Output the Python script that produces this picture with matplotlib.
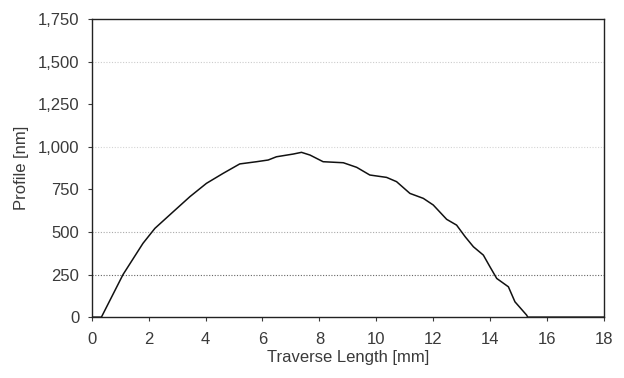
import matplotlib
matplotlib.use("Agg")
import matplotlib.pyplot as plt

# profile
traverse_mm = [0.0, 0.34, 1.10, 1.80, 2.22, 2.86, 3.45, 4.03, 4.62, 5.20, 5.79,
               6.20, 6.49, 7.08, 7.37, 7.67, 8.13, 8.84, 9.31, 9.77, 10.36,
               10.71, 11.18, 11.65, 12.00, 12.47, 12.82, 13.12, 13.41,
               13.76, 13.99, 14.23, 14.64, 14.87, 15.28, 15.32, 18.0]
profile_nm = [0, 0, 250, 433, 521, 618, 707, 785, 844, 899, 912,
              922, 941, 957, 967, 951, 912, 906, 879, 834, 820,
              795, 726, 697, 658, 574, 540, 472, 413,
              364, 296, 227, 178, 90, 12, 0, 0]

x_ticks = [0, 2, 4, 6, 8, 10, 12, 14, 16, 18]
y_ticks = [0, 250, 500, 750, 1000, 1250, 1500, 1750]
y_labels = ["0", "250", "500", "750", "1,000", "1,250", "1,500", "1,750"]

plt.rcParams["font.family"] = ["Liberation Sans", "DejaVu Sans"]
text_col = "#3a3a3a"

fig = plt.figure(figsize=(6.24, 3.78), dpi=100)
ax = fig.add_axes([0.147, 0.161, 0.821, 0.789])

# faded dotted gridlines, as on the scan
grid_alpha = {250: 0.9, 500: 0.5, 1000: 0.25, 1500: 0.3}
for yv, a in grid_alpha.items():
    ax.axhline(yv, color="#555555", lw=0.8, ls=(0, (1, 1.5)), alpha=a, zorder=1)

ax.plot(traverse_mm, profile_nm, color="#111111", lw=1.1, zorder=3)

ax.set_xlim(0, 18)
ax.set_ylim(0, 1750)
ax.set_xticks(x_ticks)
ax.set_yticks(y_ticks)
ax.set_yticklabels(y_labels)
ax.tick_params(labelsize=12, colors=text_col, length=3, width=0.8, pad=6)
ax.tick_params(axis="x", pad=8)

for sp in ax.spines.values():
    sp.set_color("#222222")
    sp.set_linewidth(1.0)

ax.set_xlabel("Traverse Length [mm]", fontsize=12, color=text_col, labelpad=2)
ax.set_ylabel("Profile [nm]", fontsize=12, color=text_col, labelpad=6)

fig.savefig("out.png", dpi=100)
